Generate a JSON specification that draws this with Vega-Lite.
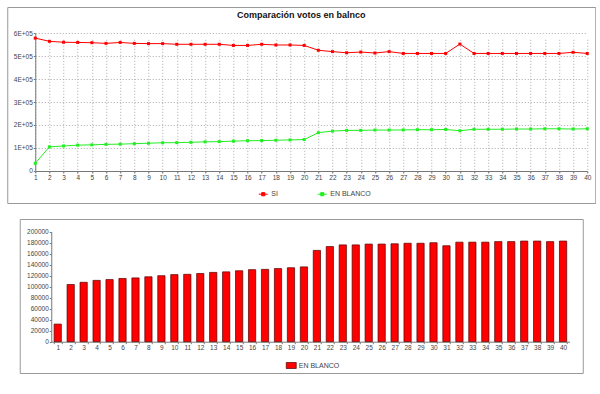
{
  "$schema": "https://vega.github.io/schema/vega-lite/v6.json",
  "padding": {"left": 6, "top": 6, "right": 0, "bottom": 0},
  "background": "white",
  "center": true,
  "spacing": 14,
  "datasets": {
    "votos": [
      {"n": 1, "SI": 579000, "EN BLANCO": 32000},
      {"n": 2, "SI": 565000, "EN BLANCO": 104000},
      {"n": 3, "SI": 561000, "EN BLANCO": 108000},
      {"n": 4, "SI": 560000, "EN BLANCO": 111500},
      {"n": 5, "SI": 559000, "EN BLANCO": 113000},
      {"n": 6, "SI": 556000, "EN BLANCO": 115000},
      {"n": 7, "SI": 560000, "EN BLANCO": 116000},
      {"n": 8, "SI": 556000, "EN BLANCO": 118000},
      {"n": 9, "SI": 555000, "EN BLANCO": 120000},
      {"n": 10, "SI": 555000, "EN BLANCO": 122000},
      {"n": 11, "SI": 552000, "EN BLANCO": 122500},
      {"n": 12, "SI": 552000, "EN BLANCO": 124000},
      {"n": 13, "SI": 552000, "EN BLANCO": 126000},
      {"n": 14, "SI": 552000, "EN BLANCO": 127000},
      {"n": 15, "SI": 547000, "EN BLANCO": 129000},
      {"n": 16, "SI": 547000, "EN BLANCO": 131000},
      {"n": 17, "SI": 552000, "EN BLANCO": 131500},
      {"n": 18, "SI": 549000, "EN BLANCO": 133000},
      {"n": 19, "SI": 549000, "EN BLANCO": 134500},
      {"n": 20, "SI": 547000, "EN BLANCO": 136000},
      {"n": 21, "SI": 526000, "EN BLANCO": 166000},
      {"n": 22, "SI": 520000, "EN BLANCO": 173000},
      {"n": 23, "SI": 515000, "EN BLANCO": 176000},
      {"n": 24, "SI": 518000, "EN BLANCO": 176000},
      {"n": 25, "SI": 514000, "EN BLANCO": 177500},
      {"n": 26, "SI": 520000, "EN BLANCO": 177500},
      {"n": 27, "SI": 512000, "EN BLANCO": 178000},
      {"n": 28, "SI": 512000, "EN BLANCO": 179000},
      {"n": 29, "SI": 512000, "EN BLANCO": 179000},
      {"n": 30, "SI": 512000, "EN BLANCO": 180000},
      {"n": 31, "SI": 553000, "EN BLANCO": 174500},
      {"n": 32, "SI": 512000, "EN BLANCO": 181000},
      {"n": 33, "SI": 512000, "EN BLANCO": 181000},
      {"n": 34, "SI": 512000, "EN BLANCO": 181000},
      {"n": 35, "SI": 512000, "EN BLANCO": 182000},
      {"n": 36, "SI": 512000, "EN BLANCO": 182000},
      {"n": 37, "SI": 512000, "EN BLANCO": 183000},
      {"n": 38, "SI": 512000, "EN BLANCO": 183000},
      {"n": 39, "SI": 517000, "EN BLANCO": 182000},
      {"n": 40, "SI": 512000, "EN BLANCO": 183000}
    ]
  },
  "config": {
    "font": "Liberation Sans",
    "view": {"stroke": "#999999", "strokeWidth": 1},
    "axis": {
      "labelFont": "Liberation Sans",
      "labelFontSize": 6.5,
      "labelColor": "#444444",
      "domainColor": "#777777",
      "tickColor": "#777777",
      "tickSize": 2,
      "labelPadding": 1,
      "title": null
    },
    "legend": {
      "labelFont": "Liberation Sans",
      "labelFontSize": 7,
      "labelColor": "#444444",
      "padding": 0,
      "title": null
    }
  },
  "resolve": {"scale": {"color": "independent", "fill": "independent"}, "legend": {"color": "independent", "fill": "independent"}},
  "vconcat": [
    {
      "width": 588,
      "height": 196,
      "title": {
        "text": "Comparación votos en balnco",
        "fontSize": 9,
        "fontWeight": "bold",
        "color": "#111111",
        "anchor": "middle",
        "frame": "group",
        "offset": -13
      },
      "data": {"name": "votos"},
      "transform": [{"fold": ["SI", "EN BLANCO"], "as": ["serie", "votos"]}],
      "mark": {
        "type": "line",
        "strokeWidth": 1,
        "point": {"shape": "square", "filled": true, "size": 9}
      },
      "encoding": {
        "x": {
          "field": "n",
          "type": "quantitative",
          "scale": {"domain": [1, 40], "range": [28, 580], "nice": false, "zero": false},
          "axis": {
            "values": [1,2,3,4,5,6,7,8,9,10,11,12,13,14,15,16,17,18,19,20,21,22,23,24,25,26,27,28,29,30,31,32,33,34,35,36,37,38,39,40],
            "format": "d",
            "offset": -32,
            "grid": true,
            "gridDash": [1, 2],
            "gridColor": "#aaaaaa",
            "labelFlush": false,
            "labelOverlap": false
          }
        },
        "y": {
          "field": "votos",
          "type": "quantitative",
          "scale": {"domain": [0, 600000], "range": [163.7, 26.3], "nice": false},
          "axis": {
            "values": [0, 100000, 200000, 300000, 400000, 500000, 600000],
            "offset": -28,
            "grid": true,
            "gridDash": [1, 2],
            "gridColor": "#aaaaaa",
            "labelExpr": "datum.value == 0 ? '0' : replace(upper(format(datum.value, '.0e')), '+', '+0')"
          }
        },
        "color": {
          "field": "serie",
          "type": "nominal",
          "scale": {"domain": ["SI", "EN BLANCO"], "range": ["#ff0000", "#22ee22"]},
          "legend": {
            "orient": "none",
            "legendX": 251,
            "legendY": 182,
            "direction": "horizontal",
            "symbolType": "M-1,0H1M-0.35,-0.35H0.35V0.35H-0.35Z",
            "symbolSize": 81,
            "symbolStrokeWidth": 1,
            "labelOffset": 3,
            "columnPadding": 37
          }
        }
      }
    },
    {
      "width": 563,
      "height": 154,
      "data": {"name": "votos"},
      "mark": {"type": "bar", "stroke": "#550000", "strokeWidth": 0.7},
      "encoding": {
        "x": {
          "field": "n",
          "type": "ordinal",
          "scale": {"range": [31.5, 549.8], "paddingInner": 0.44, "paddingOuter": 0.22},
          "axis": {"offset": -31.3, "labelAngle": 0, "tickBand": "extent"}
        },
        "y": {
          "field": "EN BLANCO",
          "type": "quantitative",
          "scale": {"domain": [0, 200000], "range": [122.7, 12.7], "nice": false},
          "axis": {
            "values": [0, 20000, 40000, 60000, 80000, 100000, 120000, 140000, 160000, 180000, 200000],
            "format": "d",
            "offset": -31.5,
            "grid": false
          }
        },
        "fill": {
          "datum": "EN BLANCO",
          "type": "nominal",
          "scale": {"range": ["#ff0000"]},
          "legend": {
            "orient": "none",
            "legendX": 266,
            "legendY": 141,
            "symbolType": "M-1,-0.6H1V0.6H-1Z",
            "symbolSize": 100,
            "symbolStrokeColor": "#550000",
            "symbolStrokeWidth": 0.7,
            "labelOffset": 2
          }
        }
      }
    }
  ]
}
